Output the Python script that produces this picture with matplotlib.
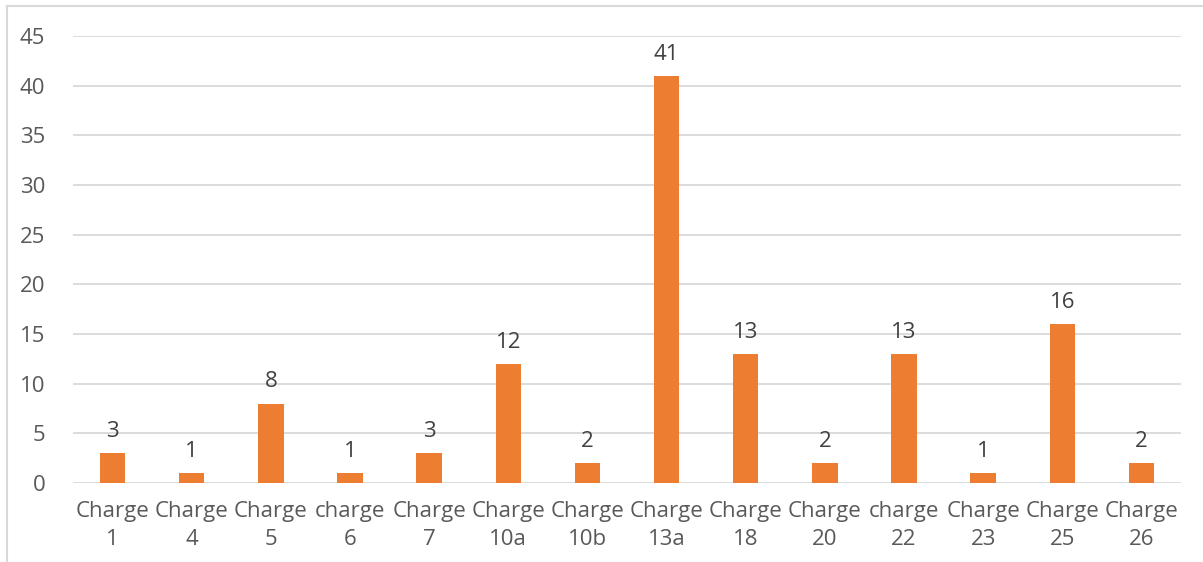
import numpy as np
import matplotlib
matplotlib.use('Agg')
import matplotlib.pyplot as plt
from matplotlib.lines import Line2D

# %%
categories = ['Charge\n1', 'Charge\n4', 'Charge\n5', 'charge\n6', 'Charge\n7', 'Charge\n10a',
              'Charge\n10b', 'Charge\n13a', 'Charge\n18', 'Charge\n20', 'charge\n22',
              'Charge\n23', 'Charge\n25', 'Charge\n26']
values = [3, 1, 8, 1, 3, 12, 2, 41, 13, 2, 13, 1, 16, 2]
yticks = [0, 5, 10, 15, 20, 25, 30, 35, 40, 45]

# %%
plt.rcParams['font.family'] = ['Open Sans', 'DejaVu Sans']
W, H = 1203, 562
fig = plt.figure(figsize=(W/100, H/100), dpi=100)
ax = fig.add_axes([73/W, 1-483/H, (1181-73)/W, (483-36)/H])

x = np.arange(len(values))
bars = ax.bar(x, values, width=0.32, color='#ED7D31', zorder=3)
for xi, v in zip(x, values):
    ax.annotate(str(v), (xi, v), xytext=(0, 8), textcoords='offset points',
                ha='center', va='bottom', fontsize=16, color='#404040')

ax.set_xlim(-0.5, len(values)-0.5)
ax.set_ylim(0, 45)
ax.set_yticks(yticks)
ax.set_xticks(x)
ax.set_xticklabels(categories, fontsize=16, color='#595959', linespacing=1.45)
ax.tick_params(axis='y', labelsize=16, labelcolor='#595959', length=0, pad=20)
ax.tick_params(axis='x', length=0, pad=13)
ax.grid(axis='y', color='#D9D9D9', linewidth=1.3, zorder=0)
for s in ax.spines.values():
    s.set_visible(False)

# outer chart border (only top and left visible)
fig.add_artist(Line2D([7/W, 1], [1-6/H, 1-6/H], color='#D9D9D9', linewidth=1.5, transform=fig.transFigure))
fig.add_artist(Line2D([7/W, 7/W], [0, 1-6/H], color='#D9D9D9', linewidth=1.5, transform=fig.transFigure))

fig.savefig('out.png', dpi=100, facecolor='white')
